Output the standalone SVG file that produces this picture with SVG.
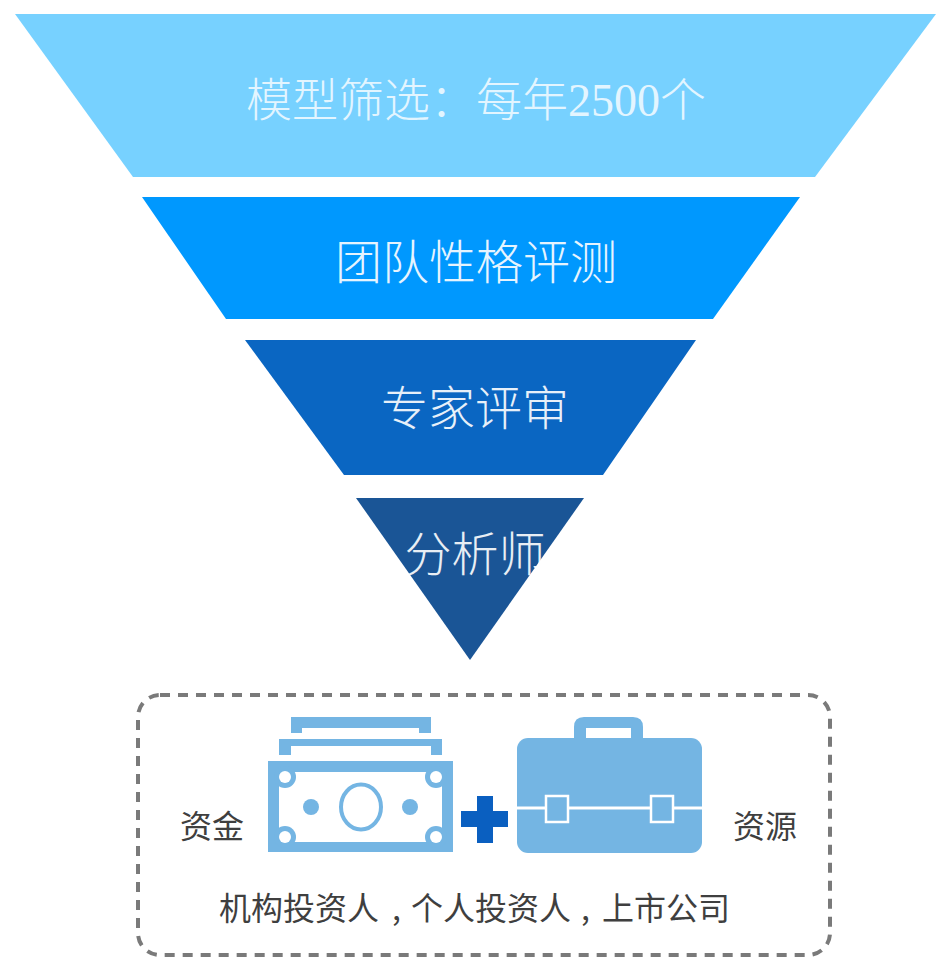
<svg xmlns="http://www.w3.org/2000/svg" width="936" height="957" viewBox="0 0 936 957">
  <style>
    .lvl { font-family: "Liberation Serif", "Noto Sans CJK SC", sans-serif; font-weight: 300; fill: #ffffff; text-anchor: middle; }
    .lbl { font-family: "Noto Sans CJK SC", sans-serif; font-size: 32px; font-weight: 400; fill: #3f3f3f; }
    .ic { fill: #74b5e3; }
    .wh { fill: #ffffff; }
  </style>
  <rect width="936" height="957" fill="#ffffff"/>
  <g id="level-1">
    <polygon points="15,14 936,14 815,177 133,177" fill="#77d1ff"/>
    <text class="lvl" x="476" y="116" font-size="46" opacity="0.8">模型筛选&#xFF1A;每年2500个</text>
  </g>
  <g id="level-2">
    <polygon points="142,197 800,197 713,319 226,319" fill="#0098fe"/>
    <text class="lvl" x="476" y="279" font-size="47" opacity="0.9">团队性格评测</text>
  </g>
  <g id="level-3">
    <polygon points="245,340 696,340 603,475 344,475" fill="#0a66c2"/>
    <text class="lvl" x="475" y="425" font-size="47" opacity="0.9">专家评审</text>
  </g>
  <g id="level-4">
    <polygon points="356,498 584,498 470,660" fill="#1a5596"/>
    <text class="lvl" x="475" y="571" font-size="47" opacity="0.9">分析师</text>
  </g>
  <g id="resource-box">
    <rect x="138" y="695" width="692" height="260" rx="22" ry="22" fill="none" stroke="#7a7a7a" stroke-width="4" stroke-dasharray="10 8"/>
    <text class="lbl" x="180" y="838">资金</text>
    <text class="lbl" x="733" y="838">资源</text>
    <text class="lbl" y="920"><tspan x="219">机构投资人</tspan><tspan x="392">,</tspan><tspan x="411">个人投资人</tspan><tspan x="581">,</tspan><tspan x="602">上市公司</tspan></text>
  </g>
  <g id="money-icon">
    <path class="ic" fill-rule="evenodd" d="M291,717H431V733H419V728H302V733H291Z"/>
    <path class="ic" fill-rule="evenodd" d="M279,739H442V755H431V746H291V755H279Z"/>
    <rect class="ic" x="268" y="761" width="185" height="91"/>
    <rect class="wh" x="279" y="772" width="163" height="70"/>
    <g class="ic">
      <circle cx="285" cy="777" r="11"/><circle cx="436" cy="777" r="11"/>
      <circle cx="285" cy="837" r="11"/><circle cx="436" cy="837" r="11"/>
    </g>
    <g class="wh">
      <circle cx="285" cy="777" r="6"/><circle cx="436" cy="777" r="6"/>
      <circle cx="285" cy="837" r="6"/><circle cx="436" cy="837" r="6"/>
    </g>
    <ellipse cx="361" cy="807" rx="20" ry="22.500" fill="none" stroke="#74b5e3" stroke-width="4"/>
    <circle class="ic" cx="311" cy="807" r="8"/>
    <circle class="ic" cx="410" cy="807" r="8"/>
  </g>
  <g id="plus-icon">
    <path fill="#0a5fc0" d="M477,796H493V811H508V827H493V843H477V827H461V811H477Z"/>
  </g>
  <g id="briefcase-icon">
    <path class="ic" fill-rule="evenodd" d="M584,717H633Q643,717 643,727V740H631V728H586V740H574V727Q574,717 584,717Z"/>
    <rect class="ic" x="517" y="738" width="185" height="115" rx="11" ry="11"/>
    <rect class="wh" x="517" y="806.500" width="185" height="3"/>
    <rect class="ic" x="546" y="796" width="22" height="26" stroke="#ffffff" stroke-width="2.500"/>
    <rect class="ic" x="651" y="796" width="22" height="26" stroke="#ffffff" stroke-width="2.500"/>
  </g>
</svg>
